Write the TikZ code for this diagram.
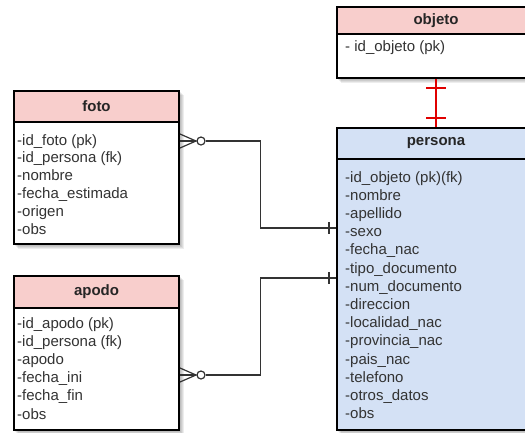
\documentclass[tikz,border=0pt]{standalone}
\usepackage{fontspec}
\setmainfont{Liberation Sans}
\usetikzlibrary{calc,backgrounds}
\definecolor{hdr}{HTML}{F8CECC}
\definecolor{blu}{HTML}{D4E1F5}
\definecolor{txt}{HTML}{333333}
\definecolor{lnk}{HTML}{333333}
\definecolor{redl}{HTML}{E00000}
\begin{document}
\begin{tikzpicture}[x=1pt,y=-1pt,
  hdrbox/.style={draw=black, line width=2pt, fill=hdr, anchor=north west, inner sep=0pt,
    font=\bfseries\fontsize{15}{18}\selectfont, text=black!85},
  bodybox/.style={draw=black, line width=2pt, fill=white, anchor=north west, inner sep=0pt},
  attr/.style={anchor=west, inner sep=0pt, text height=11pt, text depth=3pt,
    font=\fontsize{15}{18}\selectfont, text=txt},
  rel/.style={draw=lnk, line width=1.2pt},
  crowcirc/.style={circle, draw=lnk, fill=white, line width=1.2pt, minimum size=8pt, inner sep=0pt},
  redrel/.style={draw=redl, line width=2pt}]
\useasboundingbox (0,0) rectangle (525,432);
\clip (0,0) rectangle (525,432);

% objeto
\node[hdrbox, minimum width=198pt, minimum height=27pt] (objH) at (336,6) {objeto};
\node[bodybox, minimum width=198pt, minimum height=44pt] (objB) at (336,33) {};
\node[attr] (obj-1) at (345,47) {- id\_objeto (pk)};

% persona
\node[hdrbox, fill=blu, minimum width=198pt, minimum height=31pt] (perH) at (336,127) {persona};
\node[bodybox, fill=blu, minimum width=198pt, minimum height=271pt] (perB) at (336,158) {};
\foreach \t [count=\i from 0] in {-id\_objeto (pk)(fk),-nombre,-apellido,-sexo,-fecha\_nac,
  -tipo\_documento,-num\_documento,-direccion,-localidad\_nac,-provincia\_nac,-pais\_nac,
  -telefono,-otros\_datos,-obs}
  \node[attr] (per-\i) at (345,178+18.22*\i) {\t};

% foto
\node[hdrbox, minimum width=165pt, minimum height=31pt] (fotoH) at (13,90) {foto};
\node[bodybox, minimum width=165pt, minimum height=122pt] (fotoB) at (13,121) {};
\foreach \t [count=\i from 0] in {-id\_foto (pk),-id\_persona (fk),-nombre,-fecha\_estimada,-origen,-obs}
  \node[attr] (foto-\i) at (17,141+17.8*\i) {\t};

% apodo
\node[hdrbox, minimum width=165pt, minimum height=32pt] (apoH) at (13,275) {apodo};
\node[bodybox, minimum width=165pt, minimum height=122pt] (apoB) at (13,307) {};
\foreach \t [count=\i from 0] in {-id\_apodo (pk),-id\_persona (fk),-apodo,-fecha\_ini,-fecha\_fin,-obs}
  \node[attr] (apo-\i) at (17,324+18.2*\i) {\t};

% shadows
\begin{scope}[on background layer]
\foreach \a/\b in {objH/objB, perH/perB, fotoH/fotoB, apoH/apoB}{
  \foreach \s in {1,2,3,4}
    \fill[black,opacity=0.07] ($(\a.north west)+(\s+1,\s+1)$) rectangle ($(\b.south east)+(\s,\s)$);
}
\end{scope}

% foto -- persona
\coordinate (fc) at ($(fotoB.north east)+(0,20)$);
\node[crowcirc] (fcirc) at ($(fc)+(21,0)$) {};
\draw[rel] ($(fc)+(0,-7)$) -- ($(fc)+(16,0)$) -- ($(fc)+(0,7)$);
\draw[rel] (fc) -- (fcirc.west);
\coordinate (pf) at ($(perB.north west)+(0,70)$);
\draw[rel] (fcirc.east) -- ++(55,0) |- (pf);
\draw[rel] ($(pf)+(-7,-6)$) -- ($(pf)+(-7,6)$);

% apodo -- persona
\coordinate (ac) at ($(apoB.north east)+(0,68)$);
\node[crowcirc] (acirc) at ($(ac)+(21,0)$) {};
\draw[rel] ($(ac)+(0,-7)$) -- ($(ac)+(16,0)$) -- ($(ac)+(0,7)$);
\draw[rel] (ac) -- (acirc.west);
\coordinate (pa) at ($(perB.north west)+(0,120)$);
\draw[rel] (acirc.east) -- ++(55,0) |- (pa);
\draw[rel] ($(pa)+(-7,-6)$) -- ($(pa)+(-7,6)$);

% objeto -- persona
\draw[redrel] (objB.south) -- (perH.north);
\draw[redrel] ($(objB.south)+(-10,9)$) -- ($(objB.south)+(10,9)$);
\draw[redrel] ($(perH.north)+(-10,-9)$) -- ($(perH.north)+(10,-9)$);
\end{tikzpicture}
\end{document}
